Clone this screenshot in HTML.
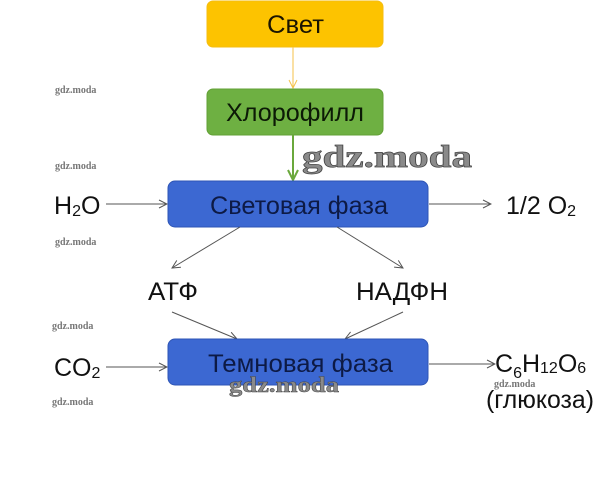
<!DOCTYPE html>
<html><head><meta charset="utf-8"><style>
body{margin:0;background:#fff;width:611px;height:490px;overflow:hidden}
svg{display:block}
.s{font-family:"Liberation Sans",sans-serif}
.w{font-family:"Liberation Serif",serif;fill:#777;font-size:10px;font-weight:bold}
.W{font-family:"Liberation Serif",serif;fill:#8a8a8a;stroke:#444;font-weight:bold}
</style></head><body>
<svg width="611" height="490" viewBox="0 0 611 490">
<defs>
<marker id="a" markerWidth="10" markerHeight="10" refX="9" refY="5" orient="auto" markerUnits="userSpaceOnUse"><path d="M1,1 L9,5 L1,9" fill="none" stroke="#555" stroke-width="1"/></marker>
<marker id="ay" markerWidth="10" markerHeight="10" refX="9" refY="5" orient="auto" markerUnits="userSpaceOnUse"><path d="M1,1 L9,5 L1,9" fill="none" stroke="#f5c24a" stroke-width="1"/></marker>
<marker id="ag" markerWidth="12" markerHeight="12" refX="11" refY="6" orient="auto" markerUnits="userSpaceOnUse"><path d="M1,1 L11,6 L1,11" fill="none" stroke="#6aa83c" stroke-width="2"/></marker>
</defs>
<g class="s">
<rect x="207" y="1" width="176" height="46" rx="6" fill="#fdc300" stroke="#f5bd10"/>
<text x="267" y="33" font-size="25" textLength="57" lengthAdjust="spacingAndGlyphs" fill="#1a1400">Свет</text>
<line x1="293" y1="47" x2="293" y2="88" stroke="#f5c24a" stroke-width="1" marker-end="url(#ay)"/>
<rect x="207" y="89" width="176" height="46" rx="6" fill="#6eb042" stroke="#62a035"/>
<text x="226" y="121" font-size="25" textLength="138" lengthAdjust="spacingAndGlyphs" fill="#0c1a06">Хлорофилл</text>
<line x1="293" y1="135" x2="293" y2="180" stroke="#6aa83c" stroke-width="2" marker-end="url(#ag)"/>
<rect x="168" y="181" width="260" height="46" rx="7" fill="#3c68d2" stroke="#2e55b5"/>
<text x="210" y="214" font-size="25" textLength="178" lengthAdjust="spacingAndGlyphs" fill="#0d1a45">Световая фаза</text>
<text x="54" y="214" font-size="25" fill="#111">H<tspan font-size="16" dy="2">2</tspan><tspan dy="-2">O</tspan></text>
<line x1="106" y1="204" x2="167" y2="204" stroke="#555" marker-end="url(#a)"/>
<line x1="429" y1="204" x2="491" y2="204" stroke="#555" marker-end="url(#a)"/>
<text x="506" y="214" font-size="25" fill="#111">1/2 O<tspan font-size="16" dy="2">2</tspan></text>
<line x1="240" y1="227" x2="172" y2="268" stroke="#555" marker-end="url(#a)"/>
<line x1="337" y1="227" x2="403" y2="268" stroke="#555" marker-end="url(#a)"/>
<text x="148" y="300" font-size="25" textLength="50" lengthAdjust="spacingAndGlyphs" fill="#111">АТФ</text>
<text x="356" y="300" font-size="25" textLength="92" lengthAdjust="spacingAndGlyphs" fill="#111">НАДФН</text>
<line x1="172" y1="312" x2="237" y2="339" stroke="#555" marker-end="url(#a)"/>
<line x1="403" y1="312" x2="345" y2="339" stroke="#555" marker-end="url(#a)"/>
<rect x="168" y="339" width="260" height="46" rx="7" fill="#3c68d2" stroke="#2e55b5"/>
<text x="208" y="372" font-size="25" textLength="185" lengthAdjust="spacingAndGlyphs" fill="#0d1a45">Темновая фаза</text>
<text x="54" y="376" font-size="25" fill="#111">CO<tspan font-size="16" dy="2">2</tspan></text>
<line x1="106" y1="367" x2="167" y2="367" stroke="#555" marker-end="url(#a)"/>
<line x1="429" y1="364" x2="495" y2="364" stroke="#555" marker-end="url(#a)"/>
<text x="495" y="372" font-size="25" fill="#111">C<tspan font-size="16" dy="6">6</tspan><tspan dy="-6">H</tspan><tspan font-size="16" dy="1">12</tspan><tspan dy="-1">O</tspan><tspan font-size="16" dy="1">6</tspan></text>
<text x="486" y="408" font-size="25" textLength="108" lengthAdjust="spacingAndGlyphs" fill="#111">(глюкоза)</text>
</g>
<text class="w" x="55" y="93">gdz.moda</text>
<text class="w" x="55" y="169">gdz.moda</text>
<text class="w" x="55" y="245">gdz.moda</text>
<text class="w" x="52" y="329">gdz.moda</text>
<text class="w" x="52" y="405">gdz.moda</text>
<text class="w" x="494" y="387">gdz.moda</text>
<text class="W" x="302" y="167" font-size="32" stroke-width="0.7" textLength="170" lengthAdjust="spacingAndGlyphs">gdz.moda</text>
<text class="W" x="229" y="392" font-size="22" stroke-width="0.5" textLength="110" lengthAdjust="spacingAndGlyphs">gdz.moda</text>
</svg>
</body></html>
